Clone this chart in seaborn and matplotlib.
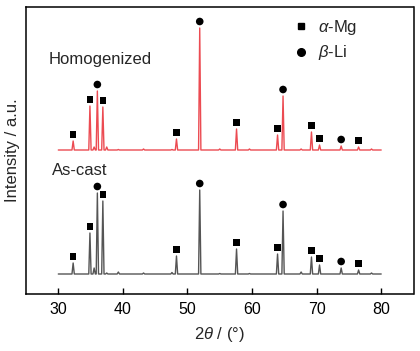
import numpy as np
import pandas as pd
import seaborn as sns
import matplotlib.pyplot as plt
from matplotlib.lines import Line2D

# peak positions (2theta, deg) and heights
peak_pos = [32.3, 34.9, 35.55, 36.05, 36.9, 37.5, 39.3, 43.2, 47.6, 48.3, 51.9,
            55.0, 57.6, 59.6, 63.95, 64.8, 67.6, 69.2, 70.45, 73.8, 76.5, 78.5]
h_cast = [11, 41, 6, 81, 73, 1, 2, 1, 1.5, 18, 84, 0.5, 25, 0.5, 20, 63, 2,
          17, 9, 6, 4, 1]
h_homo = [9, 44, 3, 59, 43, 3, 0.5, 1, 0.5, 11, 122, 1, 21, 1, 15, 54, 1,
          18, 5, 4, 3, 1]
base_cast = 19.5
base_homo = 143.5

# phase assignment
mg_peaks = [32.3, 34.9, 36.9, 48.3, 57.6, 63.95, 69.2, 70.45, 76.5]
li_peaks = [36.05, 51.9, 64.8, 73.8]

x_start, x_end = 30, 80
half_w = 0.18
mark_off = 6.5


def pattern(heights, base):
    xs, ys = [x_start], [base]
    for p, h in zip(peak_pos, heights):
        xs += [p - half_w, p, p + half_w]
        ys += [base, base + h, base]
    xs.append(x_end)
    ys.append(base)
    return pd.DataFrame({"x": xs, "y": ys})


def markers(heights, base, which):
    lookup = dict(zip(peak_pos, heights))
    return pd.DataFrame({"x": which,
                         "y": [base + lookup[p] + mark_off for p in which]})


sns.set_style("ticks")
plt.rcParams["font.family"] = ["Liberation Sans", "DejaVu Sans"]
plt.rcParams["mathtext.fontset"] = "custom"
plt.rcParams["mathtext.rm"] = "Liberation Sans"
plt.rcParams["mathtext.it"] = "Liberation Sans:italic"

fig = plt.figure(figsize=(4.2, 3.51), dpi=100)
ax = fig.add_axes([26 / 420, 1 - 293.5 / 351, 387.5 / 420, 286.5 / 351])

red = "#ec4b52"
gray = "#555555"

sns.lineplot(data=pattern(h_homo, base_homo), x="x", y="y", sort=False,
             estimator=None, color=red, lw=1.0, ax=ax)
sns.lineplot(data=pattern(h_cast, base_cast), x="x", y="y", sort=False,
             estimator=None, color=gray, lw=1.0, ax=ax)

for h, b in [(h_homo, base_homo), (h_cast, base_cast)]:
    sns.scatterplot(data=markers(h, b, mg_peaks), x="x", y="y", marker="s",
                    s=22, color="black", edgecolor="none", ax=ax)
    sns.scatterplot(data=markers(h, b, li_peaks), x="x", y="y", marker="o",
                    s=30, color="black", edgecolor="none", ax=ax)

ax.text(28.45, 229.5, "Homogenized", fontsize=12, va="baseline")
ax.text(28.98, 118.5, "As-cast", fontsize=12, va="baseline")

handles = [Line2D([], [], ls="none", marker="s", ms=4.7, color="black"),
           Line2D([], [], ls="none", marker="o", ms=5.5, color="black")]
ax.legend(handles, [r"$\mathit{\alpha}$-Mg", r"$\mathit{\beta}$-Li"],
          loc="upper left", bbox_to_anchor=(0.655, 1.015), frameon=False,
          fontsize=12, handlelength=0.8, handletextpad=0.6, labelspacing=0.4)

ax.set_xlim(25, 85)
ax.set_ylim(0, 286.5)
ax.set_xticks([30, 40, 50, 60, 70, 80])
ax.set_yticks([])
ax.tick_params(axis="x", direction="in", length=4, width=1, labelsize=11.5,
               pad=6, colors="black")
for s in ax.spines.values():
    s.set_linewidth(1.1)
    s.set_color("black")

ax.set_xlabel(r"2$\mathit{\theta}$ / (°)", fontsize=12, labelpad=6)
ax.set_ylabel("Intensity / a.u.", fontsize=12, labelpad=4)

fig.savefig("out.png", dpi=100)
